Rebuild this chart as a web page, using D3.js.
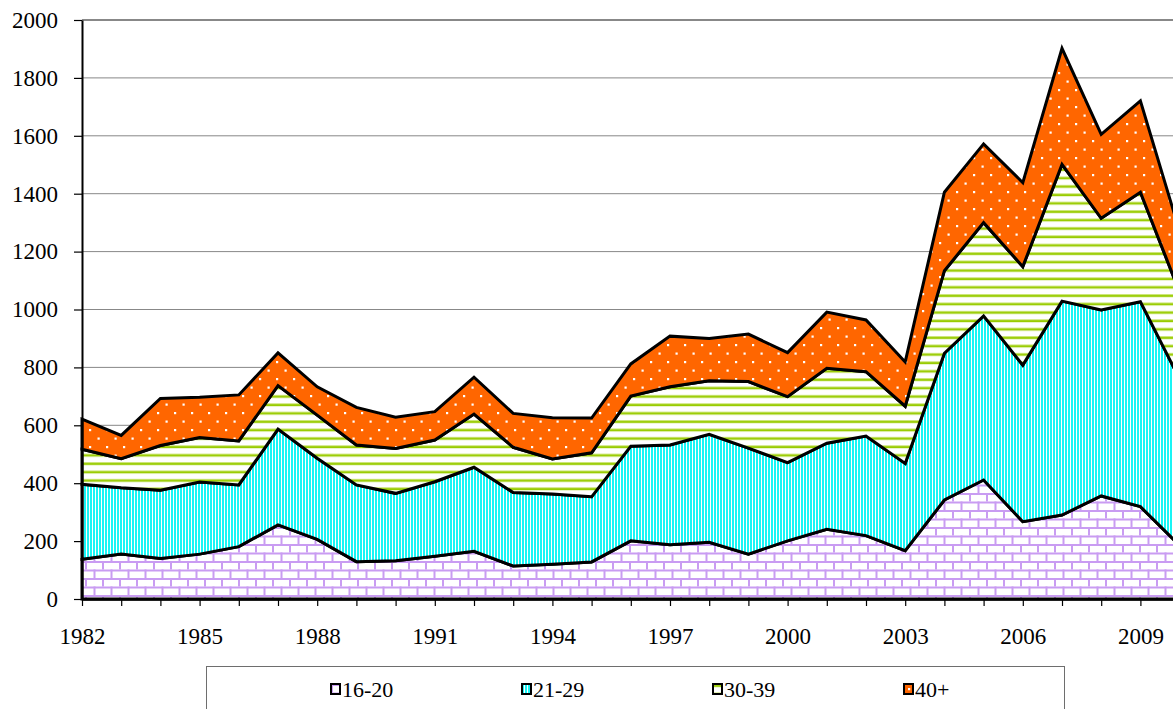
<!DOCTYPE html>
<html>
<head>
<meta charset="utf-8">
<script src="https://cdn.jsdelivr.net/npm/d3@7"></script>
<style>
  html, body { margin: 0; padding: 0; background: #fff; }
  svg { display: block; }
</style>
</head>
<body>
<div class="chart"></div>
<script>
// values
const years = [1982, 1983, 1984, 1985, 1986, 1987, 1988, 1989, 1990, 1991,
               1992, 1993, 1994, 1995, 1996, 1997, 1998, 1999, 2000, 2001,
               2002, 2003, 2004, 2005, 2006, 2007, 2008, 2009, 2010];

const age16to20 = [137, 155, 140, 155, 181, 256, 206, 129, 132, 148,
                   165, 114, 120, 128, 201, 187, 196, 155, 201, 241,
                   219, 167, 342, 411, 267, 290, 356, 319, 185];
const age21to29 = [259, 229, 236, 249, 213, 331, 280, 265, 233, 257,
                   290, 254, 243, 225, 327, 345, 373, 366, 270, 297,
                   344, 301, 507, 567, 541, 739, 642, 708, 575];
const age30to39 = [121, 101, 154, 154, 152, 150, 149, 138, 155, 144,
                   184, 156, 121, 152, 173, 201, 185, 230, 228, 259,
                   222, 198, 285, 322, 340, 472, 317, 378, 300];
const age40plus = [104, 80, 163, 139, 159, 113, 98, 130, 108, 98,
                   127, 117, 142, 120, 111, 175, 146, 164, 152, 194,
                   179, 153, 271, 272, 290, 401, 290, 316, 210];

const seriesNames = ["16-20", "21-29", "30-39", "40+"];
const yTicks = [0, 200, 400, 600, 800, 1000, 1200, 1400, 1600, 1800, 2000];
const xLabelYears = [1982, 1985, 1988, 1991, 1994, 1997, 2000, 2003, 2006, 2009];

const rows = years.map((yr, i) => ({
    year: yr,
    "16-20": age16to20[i],
    "21-29": age21to29[i],
    "30-39": age30to39[i],
    "40+": age40plus[i]
}));

const W = 1173, H = 709;
const plotLeft = 82, plotTop = 20, plotBottom = 599;

const svg = d3.select(".chart")
    .append("svg")
    .attr("width", W)
    .attr("height", H);

// fill patterns
const defs = svg.append("defs");

const brick = defs.append("pattern")
    .attr("id", "p0")
    .attr("patternUnits", "userSpaceOnUse")
    .attr("width", 17).attr("height", 17);
brick.append("rect").attr("width", 17).attr("height", 17).attr("fill", "#fff");
brick.append("rect").attr("x", 0).attr("y", 0).attr("width", 17).attr("height", 2).attr("fill", "#c99cf2");
brick.append("rect").attr("x", 0).attr("y", 8.5).attr("width", 17).attr("height", 2).attr("fill", "#c99cf2");
brick.append("rect").attr("x", 0).attr("y", 0).attr("width", 2).attr("height", 8.5).attr("fill", "#c99cf2");
brick.append("rect").attr("x", 8.5).attr("y", 8.5).attr("width", 2).attr("height", 8.5).attr("fill", "#c99cf2");

const vstripe = defs.append("pattern")
    .attr("id", "p1")
    .attr("patternUnits", "userSpaceOnUse")
    .attr("width", 3).attr("height", 10);
vstripe.append("rect").attr("width", 3).attr("height", 10).attr("fill", "#fff");
vstripe.append("rect").attr("width", 2).attr("height", 10).attr("fill", "#19f5f5");

const hstripe = defs.append("pattern")
    .attr("id", "p2")
    .attr("patternUnits", "userSpaceOnUse")
    .attr("width", 10).attr("height", 8.4);
hstripe.append("rect").attr("width", 10).attr("height", 8.4).attr("fill", "#fff");
hstripe.append("rect").attr("y", 0).attr("width", 10).attr("height", 1).attr("fill", "#cfe67f");
hstripe.append("rect").attr("y", 1).attr("width", 10).attr("height", 2).attr("fill", "#99cc00");

const dots = defs.append("pattern")
    .attr("id", "p3")
    .attr("patternUnits", "userSpaceOnUse")
    .attr("width", 17).attr("height", 17);
dots.append("rect").attr("width", 17).attr("height", 17).attr("fill", "#ff6600");
dots.append("rect").attr("x", 4).attr("y", 4).attr("width", 2.2).attr("height", 2.2).attr("fill", "#fff");
dots.append("rect").attr("x", 12.5).attr("y", 12.5).attr("width", 2.2).attr("height", 2.2).attr("fill", "#fff");

const x = d3.scaleLinear()
    .domain([1982, 2010])
    .range([plotLeft, plotLeft + 28 * 39.2]);

const y = d3.scaleLinear()
    .domain([0, 2000])
    .range([plotBottom, plotTop]);

// gridlines
svg.append("g")
    .selectAll("line")
    .data(yTicks.filter(d => d > 0))
    .enter()
    .append("line")
    .attr("x1", plotLeft)
    .attr("x2", W)
    .attr("y1", d => y(d))
    .attr("y2", d => y(d))
    .attr("stroke", "#888")
    .attr("stroke-width", d => d === 2000 ? 2 : 1);

const stack = d3.stack().keys(seriesNames);
const layers = stack(rows);

const area = d3.area()
    .x(d => x(d.data.year))
    .y0(d => y(d[0]))
    .y1(d => y(d[1]));

svg.append("g")
    .selectAll("path")
    .data(layers)
    .enter()
    .append("path")
    .attr("d", area)
    .attr("fill", (d, i) => `url(#p${i})`)
    .attr("stroke", "#000")
    .attr("stroke-width", 3)
    .attr("stroke-linejoin", "miter");

// y axis
const yAxis = svg.append("g")
    .attr("transform", `translate(${plotLeft},0)`)
    .call(d3.axisLeft(y)
        .tickValues(yTicks)
        .tickFormat(d3.format("d"))
        .tickSize(8)
        .tickPadding(16)
        .tickSizeOuter(0));
yAxis.select(".domain").attr("stroke", "#000").attr("stroke-width", 2);
yAxis.selectAll(".tick line").attr("stroke", "#000").attr("stroke-width", 1.2);

// x axis
const xAxis = svg.append("g")
    .attr("transform", `translate(0,${plotBottom})`)
    .call(d3.axisBottom(x)
        .tickValues(years)
        .tickSize(7)
        .tickPadding(22)
        .tickSizeOuter(0)
        .tickFormat(d => xLabelYears.includes(d) ? String(d) : ""));
xAxis.select(".domain").attr("stroke", "#000").attr("stroke-width", 2.5);
xAxis.selectAll(".tick line").attr("stroke", "#000").attr("stroke-width", 1.2);

svg.selectAll(".tick text")
    .attr("fill", "#000")
    .style("font-family", "Liberation Serif")
    .style("font-size", "23px");

// legend
const legend = svg.append("g");
legend.append("rect")
    .attr("x", 206.5)
    .attr("y", 666.5)
    .attr("width", 858)
    .attr("height", 70)
    .attr("fill", "#fff")
    .attr("stroke", "#6e6e6e")
    .attr("stroke-width", 1);

const item = legend.selectAll(".item")
    .data(seriesNames)
    .enter()
    .append("g")
    .attr("class", "item")
    .attr("transform", (d, i) => `translate(${331 + i * 191},684)`);

item.append("rect")
    .attr("width", 9)
    .attr("height", 10)
    .attr("fill", (d, i) => `url(#p${i})`)
    .attr("stroke", "#000")
    .attr("stroke-width", 2);

item.append("text")
    .attr("x", 11)
    .attr("y", 13)
    .attr("fill", "#000")
    .style("font-family", "Liberation Serif")
    .style("font-size", "22px")
    .text(d => d);
</script>
</body>
</html>
